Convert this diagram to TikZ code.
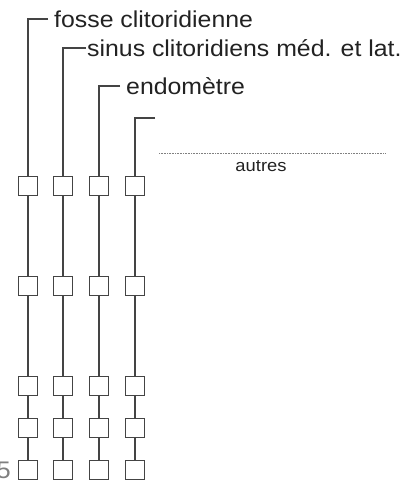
\documentclass[tikz,border=0pt]{standalone}
\usepackage{fontspec}
\setmainfont{Liberation Sans}[FakeStretch=1.08]
\definecolor{trait}{HTML}{444444}
\definecolor{texte}{HTML}{222222}
\tikzset{
  boite/.style={draw=trait,line width=1.2pt,fill=white,minimum size=19pt,inner sep=0pt},
  lien/.style={draw=trait,line width=1.1pt},
  etiq/.style={anchor=west,inner sep=1pt,text=texte,font=\fontsize{23}{26}\selectfont}
}
\begin{document}
\begin{tikzpicture}[x=1pt,y=-1pt]
        \useasboundingbox (0,0) rectangle (407,484);

        \node[boite] (b11) at ( 28,186) {};
        \node[boite] (b12) at ( 28,286) {};
        \node[boite] (b13) at ( 28,386) {};
        \node[boite] (b14) at ( 28,428) {};
        \node[boite] (b15) at ( 28,470) {};

        \node[boite] (b21) at ( 63,186) {};
        \node[boite] (b22) at ( 63,286) {};
        \node[boite] (b23) at ( 63,386) {};
        \node[boite] (b24) at ( 63,428) {};
        \node[boite] (b25) at ( 63,470) {};

        \node[boite] (b31) at ( 99,186) {};
        \node[boite] (b32) at ( 99,286) {};
        \node[boite] (b33) at ( 99,386) {};
        \node[boite] (b34) at ( 99,428) {};
        \node[boite] (b35) at ( 99,470) {};

        \node[boite] (b41) at (135,186) {};
        \node[boite] (b42) at (135,286) {};
        \node[boite] (b43) at (135,386) {};
        \node[boite] (b44) at (135,428) {};
        \node[boite] (b45) at (135,470) {};

        \node[etiq,inner xsep=6pt] (fosse) at ( 48, 19) {fosse clitoridienne};
        \node[etiq]                (sinus) at ( 86, 48) {sinus clitoridiens méd. et lat.};
        \node[etiq,inner xsep=6pt] (endo)  at (120, 86) {endomètre};
        \coordinate (c4) at (155,118);

        \node[text=texte,font=\fontsize{17}{20}\selectfont] (autres) at (261,166) {autres};
        \node[anchor=east,inner sep=0pt,text=gray,font=\fontsize{24}{26}\selectfont] (cinq) at (11,470) {5};
        \coordinate (p1) at (159,153);
        \coordinate (p2) at (385,153);
        \draw[densely dotted,gray,line width=0.6pt] (p1) -- (p2);

        \draw[lien] (fosse.west) -| (b11);
        \draw[lien] (sinus.west) -| (b21);
        \draw[lien] (endo.west)  -| (b31);
        \draw[lien] (c4) -| (b41);

        \draw[lien] (b11) -- (b12);
        \draw[lien] (b12) -- (b13);
        \draw[lien] (b13) -- (b14);
        \draw[lien] (b14) -- (b15);
        \draw[lien] (b21) -- (b22);
        \draw[lien] (b22) -- (b23);
        \draw[lien] (b23) -- (b24);
        \draw[lien] (b24) -- (b25);
        \draw[lien] (b31) -- (b32);
        \draw[lien] (b32) -- (b33);
        \draw[lien] (b33) -- (b34);
        \draw[lien] (b34) -- (b35);
        \draw[lien] (b41) -- (b42);
        \draw[lien] (b42) -- (b43);
        \draw[lien] (b43) -- (b44);
        \draw[lien] (b44) -- (b45);
      \end{tikzpicture}
\end{document}
